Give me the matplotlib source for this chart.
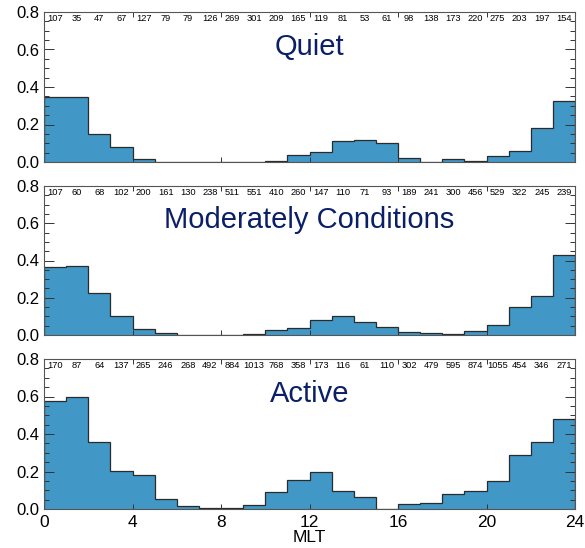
import numpy as np
import matplotlib
matplotlib.use('Agg')
import matplotlib.pyplot as plt
from matplotlib.ticker import MultipleLocator

plt.rcParams['font.family'] = ['Liberation Sans', 'DejaVu Sans']

# MLT bins 0..24, 1 h wide
mlt_edges = np.arange(0, 25)

titles = ['Quiet', 'Moderately Conditions', 'Active']

# occurrence rate per MLT bin
quiet = [0.348, 0.345, 0.149, 0.078, 0.018, 0, 0, 0, 0, 0, 0.008, 0.039,
         0.052, 0.114, 0.116, 0.100, 0.021, 0, 0.014, 0.005, 0.032, 0.057, 0.181, 0.327]
moderate = [0.364, 0.368, 0.223, 0.100, 0.030, 0.013, 0, 0, 0, 0.004, 0.029, 0.038,
            0.080, 0.100, 0.071, 0.043, 0.016, 0.011, 0.004, 0.023, 0.054, 0.150, 0.209, 0.429]
active = [0.574, 0.596, 0.359, 0.203, 0.180, 0.052, 0.014, 0.004, 0.004, 0.021, 0.089, 0.157,
          0.200, 0.094, 0.064, 0, 0.025, 0.030, 0.078, 0.098, 0.149, 0.290, 0.359, 0.482]

# number of samples per bin (printed along the top)
n_quiet = [107, 35, 47, 67, 127, 79, 79, 126, 269, 301, 209, 165,
           119, 81, 53, 61, 98, 138, 173, 220, 275, 203, 197, 154]
n_moderate = [107, 60, 68, 102, 200, 161, 130, 238, 511, 551, 410, 260,
              147, 110, 71, 93, 189, 241, 300, 456, 529, 322, 245, 239]
n_active = [170, 87, 64, 137, 265, 246, 268, 492, 884, 1013, 768, 358,
            173, 116, 61, 110, 302, 479, 595, 874, 1055, 454, 346, 271]

values = [quiet, moderate, active]
counts = [n_quiet, n_moderate, n_active]

W, H = 585, 548
fig = plt.figure(figsize=(W / 100, H / 100), dpi=100)

# panel pixel extents (top, bottom)
panels = [(12, 162), (186, 335), (359, 509)]
left, right = 44, 575

bar_color = '#4197c5'
title_color = '#0b1f66'

for i, (top, bot) in enumerate(panels):
    ax = fig.add_axes([left / W, 1 - bot / H, (right - left) / W, (bot - top) / H])
    vals = np.array(values[i])
    ax.stairs(vals, mlt_edges, fill=True, color=bar_color, baseline=0)
    ax.stairs(vals, mlt_edges, color='#2b2b2b', linewidth=0.9, baseline=0)
    ax.set_xlim(0, 24)
    ax.set_ylim(0, 0.8)
    ax.xaxis.set_major_locator(MultipleLocator(4))
    ax.yaxis.set_major_locator(MultipleLocator(0.2))
    ax.yaxis.set_minor_locator(MultipleLocator(0.05))
    ax.tick_params(which='both', direction='in', top=True, right=True, width=0.7,
                   colors='#333333', labelcolor='black')
    ax.tick_params(axis='y', which='major', length=7.5)
    ax.tick_params(axis='y', which='minor', length=3.8)
    ax.tick_params(axis='x', which='major', length=3.8)
    ax.tick_params(axis='y', labelsize=12)
    ax.tick_params(axis='x', labelsize=12.5, pad=4)
    ax.yaxis.set_major_formatter(matplotlib.ticker.FormatStrFormatter('%.1f'))
    for sp in ax.spines.values():
        sp.set_color('#555555')
        sp.set_linewidth(0.8)
    if i < 2:
        ax.set_xticklabels([])
    else:
        ax.set_xlabel('MLT', fontsize=12.5, labelpad=0)
    for k, c in enumerate(counts[i]):
        ax.text(k + 0.5, 0.955, str(c), transform=ax.get_xaxis_transform(),
                ha='center', va='center', fontsize=6.7)
    ax.text(0.5, 0.77, titles[i], transform=ax.transAxes, ha='center', va='center',
            fontsize=21, color=title_color)

fig.savefig('out.png', dpi=100)
